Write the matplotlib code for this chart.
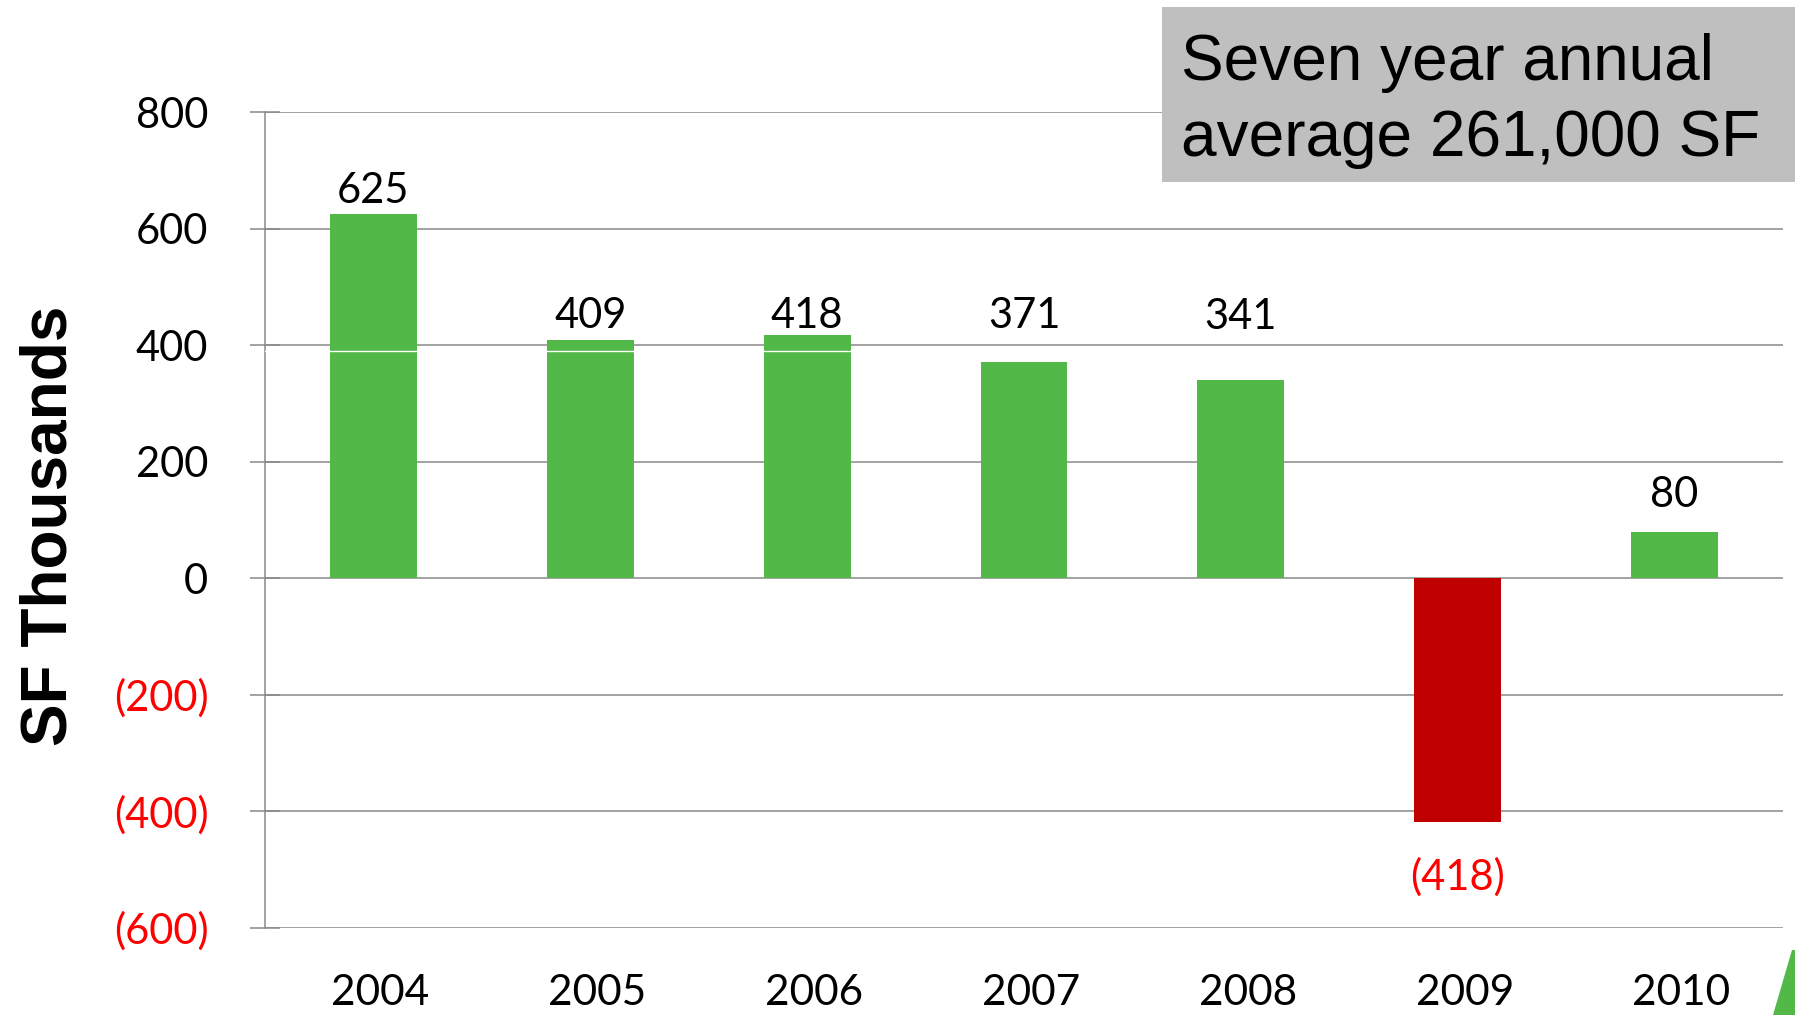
import matplotlib
matplotlib.use('Agg')
import matplotlib.pyplot as plt
from matplotlib.patches import Rectangle, Polygon

# ---- data ----
years = ['2004', '2005', '2006', '2007', '2008', '2009', '2010']
absorption = [625, 409, 418, 371, 341, -418, 80]
yticks = [800, 600, 400, 200, 0, -200, -400, -600]
ylabel = 'SF Thousands'
note_lines = ['Seven year annual', 'average 261,000 SF']
overlay_line_value = 390

# ---- layout / style ----
label_offset_px = [11, 12, 7, 34, 51, -68, 25]
xlabel_nudge = 0.032          # small rightward nudge of category labels (in category units)
GREEN = '#52B848'
RED_BAR = '#C00000'
RED_TEXT = '#FF0000'
GRID = '#898989'
NUM_FONT = ['Lato', 'DejaVu Sans']
ARIAL = ['Liberation Sans', 'DejaVu Sans']

W, H, DPI = 1795, 1015, 100
PT = 72 / DPI

fig = plt.figure(figsize=(W / DPI, H / DPI), dpi=DPI)
fig.patch.set_facecolor('white')
ax = fig.add_axes([265 / W, 1 - 928 / H, (1783 - 265) / W, (928 - 112) / H])

x = list(range(len(years)))
colors = [GREEN if v >= 0 else RED_BAR for v in absorption]
bars = ax.bar(x, absorption, width=0.4, color=colors, zorder=3)
ax.axhline(overlay_line_value, color='white', lw=1.0, zorder=4)

ax.set_xlim(-0.5, len(years) - 0.5)
ax.set_ylim(min(yticks), max(yticks))
ax.set_yticks(yticks)
ax.set_yticklabels([f'{v:,}' if v >= 0 else f'({-v:,})' for v in yticks],
                   family=NUM_FONT, fontsize=30)
for t, v in zip(ax.get_yticklabels(), yticks):
    t.set_color('black' if v >= 0 else RED_TEXT)
ax.set_xticks([xi + xlabel_nudge for xi in x])
ax.set_xticklabels(years, family=NUM_FONT, fontsize=30.5)

ax.yaxis.grid(True, color=GRID, lw=1.1, zorder=1)
ax.set_axisbelow(True)
for s in ['top', 'right', 'bottom']:
    ax.spines[s].set_visible(False)
ax.spines['left'].set_color(GRID)
ax.spines['left'].set_linewidth(1.1)
ax.tick_params(axis='y', direction='inout', length=30 * PT, width=1.1,
               color=GRID, pad=30)
ax.tick_params(axis='x', length=0, pad=33)

for xi, v, off in zip(x, absorption, label_offset_px):
    txt = f'{v:,}' if v >= 0 else f'({-v:,})'
    ax.annotate(txt, (xi, v), xytext=(0, off * PT), textcoords='offset points',
                ha='center', va='baseline', fontsize=30, family=NUM_FONT,
                color='black' if v >= 0 else RED_TEXT, zorder=5)

fig.text(50 / W, 1 - 526 / H, ylabel, rotation=90, ha='center', va='center',
         fontsize=46, fontweight='bold', family=ARIAL)

fig.add_artist(Rectangle((1162 / W, 1 - 182 / H), (W - 1162) / W, 175 / H,
                         transform=fig.transFigure, facecolor='#BFBFBF',
                         edgecolor='none', zorder=6))
for line, base in zip(note_lines, [80, 156]):
    fig.text(1181 / W, 1 - base / H, line, ha='left', va='baseline',
             fontsize=46, family=ARIAL, color='black', zorder=7)

fig.add_artist(Polygon([(1773 / W, 0), (1792 / W, 1 - 950 / H), (1, 1 - 950 / H), (1, 0)],
                       closed=True, transform=fig.transFigure, facecolor=GREEN,
                       edgecolor='none', zorder=6))

fig.savefig('out.png', dpi=DPI)
